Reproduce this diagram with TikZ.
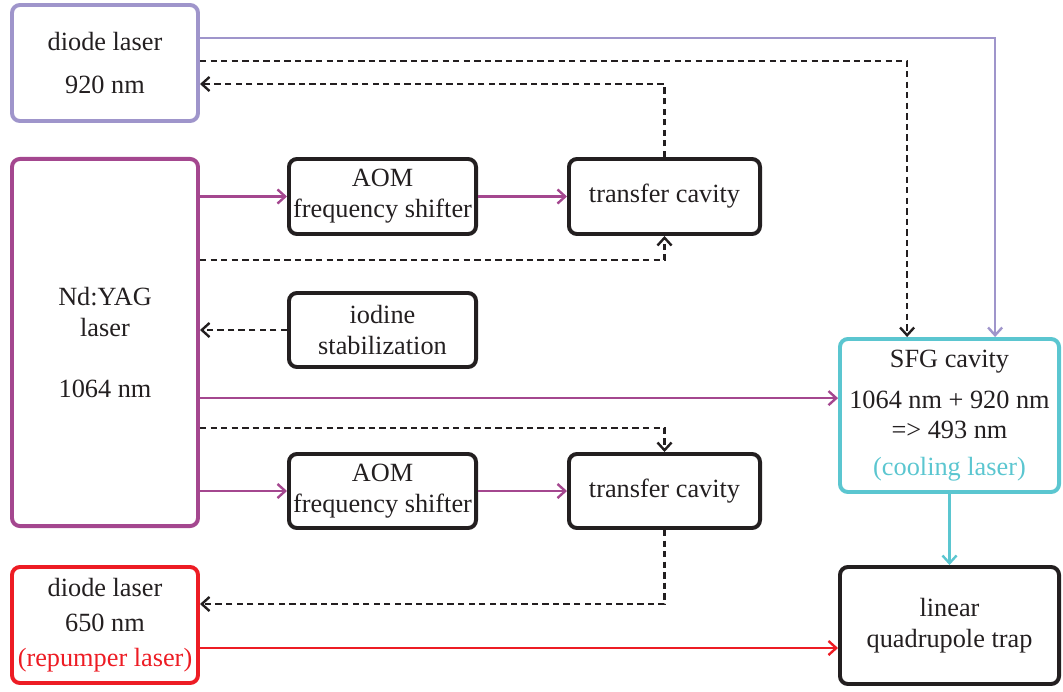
\documentclass[tikz,border=0pt]{standalone}
\usepackage{fontspec}
\setmainfont{Liberation Serif}
\usepackage{xcolor}
\usepackage{tikz}
\usetikzlibrary{arrows.meta}
\definecolor{lpurple}{HTML}{9F95CB}
\definecolor{lmagenta}{HTML}{A4478F}
\definecolor{lcyan}{HTML}{5BC6D0}
\definecolor{lred}{HTML}{ED1C24}
\definecolor{lblack}{HTML}{231F20}
\tikzset{mybox/.style = {draw, rounded corners=0.2cm, line width=2.8pt, inner sep=0pt, align=center,
    font=\fontsize{18.7}{22}\selectfont, text=lblack}}
\tikzset{beam/.style = {line width=1.7pt, -{Straight Barb[length=5.5pt,width=10pt]}}}
\tikzset{lock/.style = {beam, draw=lblack, dash pattern=on 4.5pt off 3pt}}

\begin{document}
\begin{tikzpicture}[x=0.025cm, y=-0.025cm]
    \useasboundingbox (0,0) rectangle (1063,691);

    \node[mybox, draw=lpurple, minimum width=4.65cm, minimum height=2.9cm] (dl920) at (105, 63) {diode laser\\[9pt]920 nm};
    \node[mybox, draw=lmagenta, minimum width=4.65cm, minimum height=9.175cm] (yag) at (105, 342.5) {Nd:YAG\\laser\\[21pt]1064 nm};
    \node[mybox, draw=lred, minimum width=4.65cm, minimum height=2.9cm] (dl650) at (105, 625) {diode laser\\[3pt]650 nm\\[3pt]\textcolor{lred}{(repumper laser)}};

    \node[mybox, draw=lblack, minimum width=4.675cm, minimum height=1.875cm] (aom1) at (382.5, 196.5) {AOM\\frequency shifter};
    \node[mybox, draw=lblack, minimum width=4.775cm, minimum height=1.875cm] (tc1) at (664.5, 196.5) {transfer cavity};
    \node[mybox, draw=lblack, minimum width=4.675cm, minimum height=1.85cm] (iod) at (382.5, 330) {iodine\\stabilization};
    \node[mybox, draw=lblack, minimum width=4.675cm, minimum height=1.85cm] (aom2) at (382.5, 491) {AOM\\frequency shifter};
    \node[mybox, draw=lblack, minimum width=4.775cm, minimum height=1.85cm] (tc2) at (664.5, 491) {transfer cavity};

    \node[mybox, draw=lcyan, minimum width=5.475cm, minimum height=3.825cm] (sfg) at (949.5, 415.5) {SFG cavity\\[7pt]1064 nm + 920 nm\\=> 493 nm\\[4pt]\textcolor{lcyan}{(cooling laser)}};
    \node[mybox, draw=lblack, minimum width=5.475cm, minimum height=2.925cm] (trap) at (949.5, 625.5) {linear\\quadrupole trap};

    % tap points on the laser boxes
    \coordinate (p1) at ([yshift=0.625cm]dl920.east);
    \coordinate (p2) at ([yshift=0.05cm]dl920.east);
    \coordinate (p3) at ([yshift=-0.525cm]dl920.east);
    \coordinate (m1) at ([yshift=2.0625cm]yag.east);
    \coordinate (m2) at ([yshift=-1.39cm]yag.east);
    \coordinate (m3) at ([yshift=-2.14cm]yag.east);
    \coordinate (r1) at ([yshift=0.525cm]dl650.east);
    \coordinate (r2) at ([yshift=-0.575cm]dl650.east);

    \draw[beam, draw=lpurple] (p1) -| ([xshift=1.14cm]sfg.north);
    \draw[lock] (p2) -| ([xshift=-1.06cm]sfg.north);
    \draw[lock] (tc1.north) |- (p3);

    \draw[beam, draw=lmagenta] (yag.east |- aom1) -- (aom1);
    \draw[beam, draw=lmagenta] (aom1) -- (tc1);
    \draw[lock] (m1) -| (tc1.south);
    \draw[lock] (iod) -- (yag.east |- iod);
    \draw[beam, draw=lmagenta] (m2) -- (m2 -| sfg.west);
    \draw[lock] (m3) -| (tc2.north);
    \draw[beam, draw=lmagenta] (yag.east |- aom2) -- (aom2);
    \draw[beam, draw=lmagenta] (aom2) -- (tc2);

    \draw[lock] (tc2.south) |- (r1);
    \draw[beam, draw=lred] (r2) -- (r2 -| trap.west);
    \draw[beam, draw=lcyan] (sfg.south) -- (trap.north);

\end{tikzpicture}
\end{document}
